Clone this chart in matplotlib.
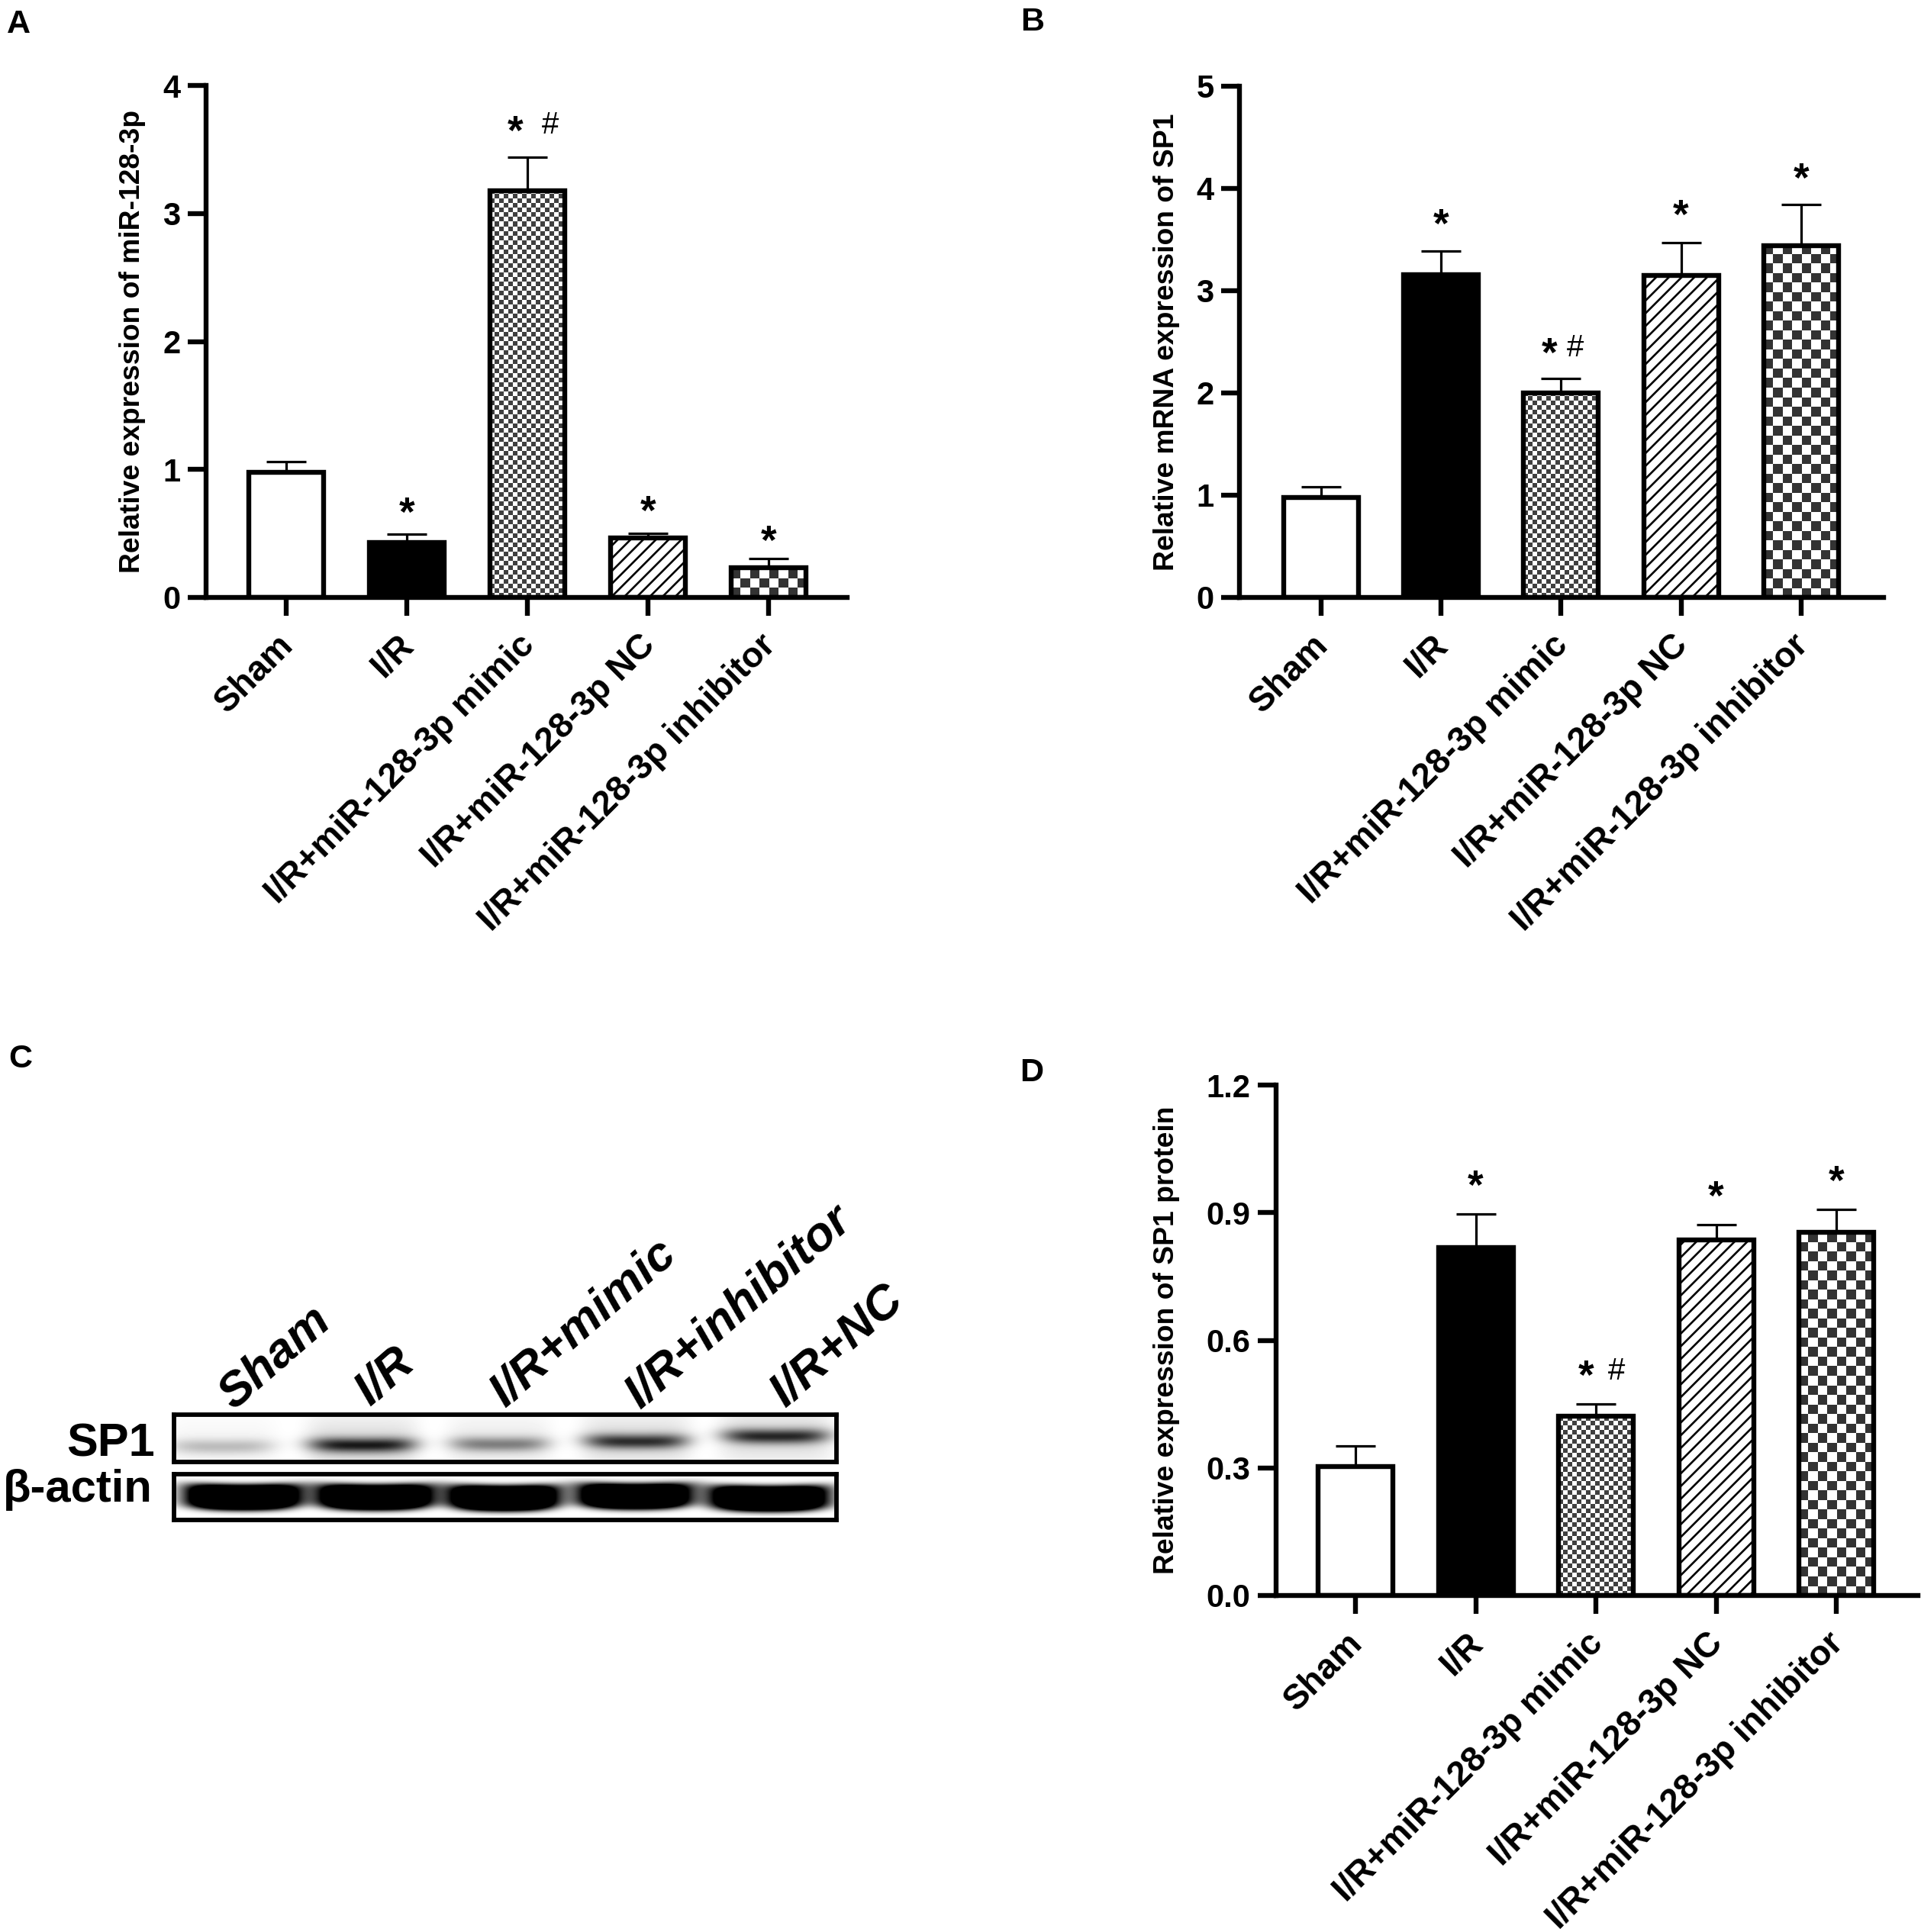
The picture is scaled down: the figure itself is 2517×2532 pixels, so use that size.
import numpy as np
import matplotlib
matplotlib.use("Agg")
import matplotlib.pyplot as plt
from matplotlib.transforms import ScaledTranslation

W, H = 2517, 2532
plt.rcParams['font.family'] = ['Liberation Sans', 'DejaVu Sans']
plt.rcParams['hatch.linewidth'] = 1.9

groups = ['Sham', 'I/R', 'I/R+miR-128-3p mimic', 'I/R+miR-128-3p NC', 'I/R+miR-128-3p inhibitor']
positions = [0, 1, 2, 3, 4]

a_means = [0.98, 0.43, 3.18, 0.465, 0.23]
a_tops = [1.06, 0.494, 3.44, 0.50, 0.305]
a_ticks = [0, 1, 2, 3, 4]
a_ticklabels = ['0', '1', '2', '3', '4']
a_stars = [None, 0.705, 3.68, 0.715, 0.483]

b_means = [0.98, 3.16, 2.0, 3.15, 3.44]
b_tops = [1.08, 3.39, 2.14, 3.47, 3.84]
b_ticks = [0, 1, 2, 3, 4, 5]
b_ticklabels = ['0', '1', '2', '3', '4', '5']
b_stars = [None, 3.70, 2.44, 3.79, 4.15]

d_means = [0.303, 0.818, 0.422, 0.836, 0.854]
d_tops = [0.351, 0.897, 0.451, 0.872, 0.907]
d_ticks = [0, 0.3, 0.6, 0.9, 1.2]
d_ticklabels = ['0.0', '0.3', '0.6', '0.9', '1.2']
d_stars = [None, 0.975, 0.528, 0.95, 0.987]

# blot bands, lane centres and half widths as a fraction of the box width
sp1_centres = [0.072, 0.284, 0.491, 0.698, 0.909]
sp1_halfwidths = [0.078, 0.080, 0.074, 0.078, 0.080]
sp1_rows = [0.66, 0.63, 0.61, 0.55, 0.44]
sp1_dark = [0.26, 0.90, 0.50, 0.82, 0.85]
actin_centres = [0.104, 0.304, 0.498, 0.696, 0.899]
actin_halfwidths = [0.086, 0.086, 0.082, 0.084, 0.088]
actin_rows = [0.46, 0.46, 0.48, 0.44, 0.49]

blot_lanes = ['Sham', 'I/R', 'I/R+mimic', 'I/R+inhibitor', 'I/R+NC']
blot_lane_x = [360, 505, 765, 968, 1097]
blot_lane_y = [1780, 1804, 1734, 1713, 1764]

fig = plt.figure(figsize=(W / 100, H / 100), dpi=100)


def px_axes(left, top, right, bottom):
    return fig.add_axes([left / W, 1 - bottom / H, (right - left) / W, (bottom - top) / H])


def checker(ax, patch, cell, low):
    # fill one bar with a square pattern, cell given in pixels
    x0, x1 = patch.get_x(), patch.get_x() + patch.get_width()
    y0, y1 = patch.get_y(), patch.get_y() + patch.get_height()
    p0 = ax.transData.transform((x0, y0))
    p1 = ax.transData.transform((x1, y1))
    nx = int(abs(p1[0] - p0[0]) / cell) + 1
    ny = int(abs(p1[1] - p0[1]) / cell) + 1
    rows, cols = np.indices((ny, nx))
    pattern = np.where((rows + cols) % 2 == 0, low, 1.0)
    ex1 = x0 + nx * cell * (x1 - x0) / abs(p1[0] - p0[0])
    ey1 = y0 + ny * cell * (y1 - y0) / abs(p1[1] - p0[1])
    im = ax.imshow(pattern, cmap='gray', vmin=0, vmax=1, origin='lower', aspect='auto',
                   extent=(x0, ex1, y0, ey1), interpolation='nearest', zorder=1)
    im.set_clip_path(patch)


def bar_panel(box, xoff, xstep, means, tops, stars, ticks, ticklabels, ylabel, label_x, hash_x, hash_dy):
    ax = px_axes(*box)
    xlim = ((box[0] - xoff) / xstep, (box[2] - xoff) / xstep)
    ylim = (ticks[0], ticks[-1])
    ax.set_xlim(xlim)
    ax.set_ylim(ylim)

    bars = ax.bar(positions, means, width=98 / xstep, facecolor='none', edgecolor='black',
                  linewidth=4.6, zorder=2)
    bars[0].set_facecolor('white')
    bars[1].set_facecolor('black')
    bars[3].set_hatch('//')
    checker(ax, bars[2], 6, 0.25)
    checker(ax, bars[4], 12.5, 0.2)

    for i in positions:
        ax.errorbar(positions[i], means[i], yerr=[[0], [tops[i] - means[i]]], color='black',
                    elinewidth=2.3, capsize=18.5, capthick=2.3, zorder=1.5)
    ax.set_xlim(xlim)
    ax.set_ylim(ylim)

    for i in positions:
        if stars[i] is not None:
            ax.annotate('*', xy=(positions[i] + (hash_x[0] if i == 2 else 0), stars[i]), xytext=(0, -7),
                        textcoords='offset points', ha='center', va='center',
                        fontsize=38, fontweight='bold')
    ax.annotate('#', xy=(2 + hash_x[1], stars[2] + hash_dy), ha='center', va='center', fontsize=29)

    for side in ['top', 'right']:
        ax.spines[side].set_visible(False)
    for side in ['left', 'bottom']:
        ax.spines[side].set_linewidth(4.6)
    ax.set_xticks(positions)
    ax.set_xticklabels(groups, rotation=45, ha='right', rotation_mode='anchor',
                       fontsize=33, fontweight='bold')
    ax.set_yticks(ticks)
    ax.set_yticklabels(ticklabels, fontsize=30, fontweight='bold')
    ax.tick_params(axis='both', width=4.6, length=17)
    ax.tick_params(axis='y', pad=7)
    ax.tick_params(axis='x', pad=12)
    # has to come after tick_params, which resets the label transform
    shift = ScaledTranslation(-13 / 100, 0, fig.dpi_scale_trans)
    for lab in ax.get_xticklabels():
        lab.set_transform(lab.get_transform() + shift)
    ax.set_ylabel(ylabel, fontsize=26.8, fontweight='bold')
    ax.yaxis.set_label_coords((label_x - box[0]) / (box[2] - box[0]), 0.5)
    return ax


bar_panel((270, 112, 1110, 783), 375, 158, a_means, a_tops, a_stars, a_ticks, a_ticklabels,
          'Relative expression of miR-128-3p', 191, (-0.1, 0.19), 0.01)
bar_panel((1624, 113, 2468, 783), 1731, 157.2, b_means, b_tops, b_stars, b_ticks, b_ticklabels,
          'Relative mRNA expression of SP1', 1546, (-0.1, 0.12), 0.0)
bar_panel((1672, 1422, 2513, 2091), 1776, 157.5, d_means, d_tops, d_stars, d_ticks, d_ticklabels,
          'Relative expression of SP1 protein', 1546, (-0.08, 0.17), 0.0)


def blot(box, centres, halfwidths, rows, dark, thick, sag, xpow, ypow, gain, haze):
    ax = px_axes(*box)
    ny, nx = box[3] - box[1], box[2] - box[0]
    yy, xx = np.mgrid[0:1:ny * 1j, 0:1:nx * 1j]
    img = np.zeros((ny, nx))
    for c, w, r, d in zip(centres, halfwidths, rows, dark):
        u = (xx - c) / w
        v = (yy - r - sag * (1 - u ** 2)) / thick
        img += gain * d * np.exp(-np.abs(u) ** xpow) * np.exp(-np.abs(v) ** ypow)
        img += haze * d * np.exp(-np.abs((xx - c) / (w * 1.05)) ** 6) * np.exp(-((yy - r) / 0.6) ** 2)
    img = np.clip(img, 0, 1)
    ax.imshow(1 - img, cmap='gray', vmin=0, vmax=1, aspect='auto', interpolation='bilinear')
    ax.set_xticks([])
    ax.set_yticks([])
    for side in ax.spines.values():
        side.set_linewidth(4.2)


blot((228, 1854, 1096, 1916), sp1_centres, sp1_halfwidths, sp1_rows, sp1_dark, 0.16, 0.02, 4, 2, 0.85, 0.16)
blot((228, 1932, 1096, 1992), actin_centres, actin_halfwidths, actin_rows, [1, 1, 1, 1, 1], 0.28, 0.05, 4, 4, 2.2, 0.0)


def fig_text(x, y, s, **kw):
    fig.text(x / W, 1 - y / H, s, **kw)


fig_text(203, 1893, 'SP1', ha='right', va='center', fontsize=44, fontweight='bold')
fig_text(200, 1953, 'β-actin', ha='right', va='center', fontsize=43, fontweight='bold')
for name, x, y in zip(blot_lanes, blot_lane_x, blot_lane_y):
    fig_text(x, y, name, rotation=41, ha='center', va='center', rotation_mode='anchor',
             fontsize=45.5, fontweight='bold', style='italic')

for letter, x, y in zip('ABCD', [24, 1353, 27, 1352], [32, 29, 1388, 1406]):
    fig_text(x, y, letter, ha='center', va='center', fontsize=31, fontweight='bold')

fig.savefig('out.png', dpi=100)
